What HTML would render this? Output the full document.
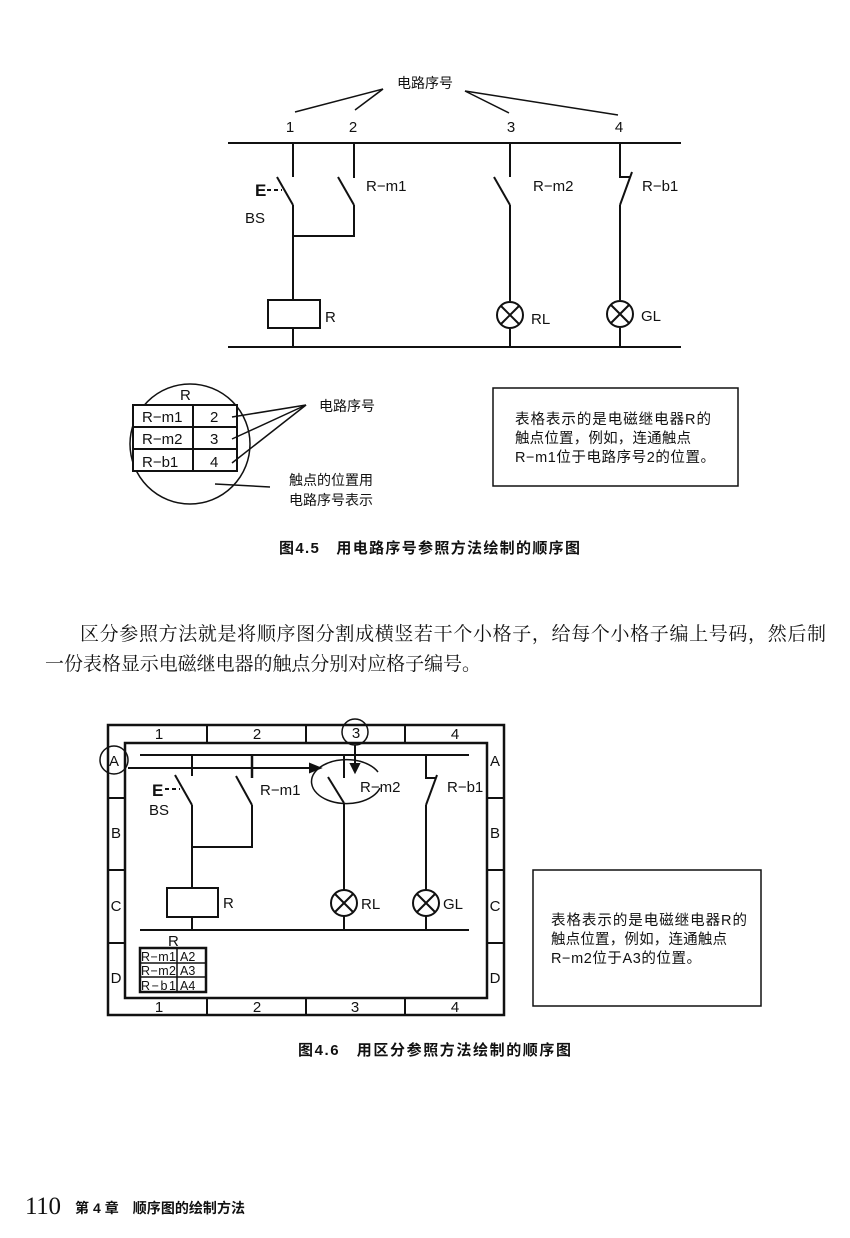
<!DOCTYPE html>
<html><head><meta charset="utf-8"><style>
html,body{margin:0;padding:0;background:#fff;}
svg{display:block;}
text{font-family:"Liberation Sans","Noto Sans CJK SC",sans-serif;fill:#111;}
.s{font-family:"Liberation Serif","Noto Serif CJK SC",serif;}
</style></head><body>
<svg width="850" height="1238" viewBox="0 0 850 1238" xmlns="http://www.w3.org/2000/svg">
<g stroke="#111" stroke-width="2" fill="none">
<!-- Fig 4.5 -->
<line x1="228" y1="143" x2="681" y2="143"/>
<line x1="228" y1="347" x2="681" y2="347"/>
<line x1="295" y1="112" x2="383" y2="89" stroke-width="1.5"/>
<line x1="355" y1="110" x2="383" y2="89" stroke-width="1.5"/>
<line x1="465" y1="91" x2="509" y2="113" stroke-width="1.5"/>
<line x1="465" y1="91" x2="618" y2="115" stroke-width="1.5"/>
<polyline points="293,143 293,177"/>
<line x1="277" y1="177" x2="293" y2="205"/>
<polyline points="293,205 293,300"/>
<line x1="293" y1="328" x2="293" y2="347"/>
<line x1="267" y1="190" x2="282" y2="190" stroke-dasharray="4,3"/>
<rect x="268" y="300" width="52" height="28"/>
<line x1="354" y1="143" x2="354" y2="178"/>
<line x1="338" y1="177" x2="354" y2="205"/>
<polyline points="354,205 354,236 293,236"/>
<line x1="510" y1="143" x2="510" y2="177"/>
<line x1="494" y1="177" x2="510" y2="205"/>
<line x1="510" y1="205" x2="510" y2="301"/>
<line x1="510" y1="329" x2="510" y2="347"/>
<circle cx="510" cy="315" r="13"/>
<line x1="501" y1="306" x2="519" y2="324"/><line x1="519" y1="306" x2="501" y2="324"/>
<polyline points="620,143 620,177 630,177"/>
<line x1="632" y1="172" x2="620" y2="205"/>
<line x1="620" y1="205" x2="620" y2="300"/>
<line x1="620" y1="328" x2="620" y2="347"/>
<circle cx="620" cy="314" r="13"/>
<line x1="611" y1="305" x2="629" y2="323"/><line x1="629" y1="305" x2="611" y2="323"/>
<circle cx="190" cy="444" r="60" stroke-width="1.5"/>
<rect x="133" y="405" width="104" height="66" fill="#fff"/>
<line x1="133" y1="427" x2="237" y2="427"/><line x1="133" y1="449" x2="237" y2="449"/>
<line x1="193" y1="405" x2="193" y2="471"/>
<line x1="232" y1="417" x2="306" y2="405" stroke-width="1.5"/>
<line x1="232" y1="439" x2="306" y2="405" stroke-width="1.5"/>
<line x1="232" y1="463" x2="306" y2="405" stroke-width="1.5"/>
<line x1="215" y1="484" x2="270" y2="487" stroke-width="1.5"/>
<rect x="493" y="388" width="245" height="98" stroke-width="1.5"/>

<!-- Fig 4.6 -->
<rect x="108" y="725" width="396" height="290" stroke-width="2.5"/>
<rect x="125" y="743" width="362" height="255" stroke-width="2.5"/>
<line x1="207" y1="725" x2="207" y2="743"/><line x1="306" y1="725" x2="306" y2="743"/><line x1="405" y1="725" x2="405" y2="743"/>
<line x1="207" y1="998" x2="207" y2="1015"/><line x1="306" y1="998" x2="306" y2="1015"/><line x1="405" y1="998" x2="405" y2="1015"/>
<line x1="108" y1="798" x2="125" y2="798"/><line x1="108" y1="870" x2="125" y2="870"/><line x1="108" y1="943" x2="125" y2="943"/>
<line x1="487" y1="798" x2="504" y2="798"/><line x1="487" y1="870" x2="504" y2="870"/><line x1="487" y1="943" x2="504" y2="943"/>
<line x1="140" y1="755" x2="469" y2="755"/>
<line x1="140" y1="930" x2="469" y2="930"/>
<line x1="128" y1="768" x2="312" y2="768"/>
<polygon points="320,768 310,764 310,772" fill="#111"/>
<circle cx="114" cy="760" r="14" stroke-width="1.5"/>
<circle cx="355" cy="732" r="13" stroke-width="1.5"/>
<line x1="355" y1="745" x2="355" y2="765"/>
<polygon points="355,772 351,764 359,764" fill="#111"/>
<line x1="192" y1="755" x2="192" y2="776"/>
<line x1="175" y1="775" x2="192" y2="805"/>
<line x1="192" y1="805" x2="192" y2="888"/>
<line x1="192" y1="917" x2="192" y2="930"/>
<rect x="167" y="888" width="51" height="29"/>
<line x1="165" y1="789" x2="180" y2="789" stroke-dasharray="4,3"/>
<line x1="252" y1="755" x2="252" y2="778" stroke-width="2.5"/>
<line x1="236" y1="776" x2="252" y2="805"/>
<polyline points="252,805 252,847 192,847"/>
<line x1="344" y1="755" x2="344" y2="778"/>
<line x1="328" y1="777" x2="344" y2="803"/>
<line x1="344" y1="803" x2="344" y2="890"/>
<line x1="344" y1="916" x2="344" y2="930"/>
<circle cx="344" cy="903" r="13"/>
<line x1="335" y1="894" x2="353" y2="912"/><line x1="353" y1="894" x2="335" y2="912"/>
<path d="M380,788 A35,22 0 1 1 378,772" stroke-width="1.5"/>
<polyline points="426,755 426,778 436,778"/>
<line x1="437" y1="775" x2="426" y2="805"/>
<line x1="426" y1="805" x2="426" y2="890"/>
<line x1="426" y1="916" x2="426" y2="930"/>
<circle cx="426" cy="903" r="13"/>
<line x1="417" y1="894" x2="435" y2="912"/><line x1="435" y1="894" x2="417" y2="912"/>
<rect x="140" y="948" width="66" height="44" stroke-width="2.5"/>
<line x1="140" y1="963" x2="206" y2="963" stroke-width="1.5"/><line x1="140" y1="977" x2="206" y2="977" stroke-width="1.5"/>
<line x1="177" y1="948" x2="177" y2="992" stroke-width="1.5"/>
<rect x="533" y="870" width="228" height="136" stroke-width="1.5"/>
</g>

<text x="425" y="88" font-size="14" text-anchor="middle">电路序号</text>
<g font-size="15" text-anchor="middle">
<text x="290" y="132">1</text><text x="353" y="132">2</text><text x="511" y="132">3</text><text x="619" y="132">4</text>
</g>
<g font-size="15">
<text x="366" y="191">R−m1</text><text x="533" y="191">R−m2</text><text x="642" y="191">R−b1</text>
<text x="245" y="223">BS</text><text x="325" y="322">R</text><text x="531" y="324">RL</text><text x="641" y="321">GL</text>
<text x="180" y="400">R</text>
<text x="142" y="422">R−m1</text><text x="142" y="444">R−m2</text><text x="142" y="467">R−b1</text>
<text x="210" y="422">2</text><text x="210" y="444">3</text><text x="210" y="467">4</text>
</g>
<text x="255" y="196" font-size="17" font-weight="bold">E</text>
<g font-size="14">
<text x="319" y="411">电路序号</text>
<text x="289" y="485">触点的位置用</text>
<text x="289" y="505">电路序号表示</text>
</g>
<g font-size="14.5">
<text x="515" y="424" textLength="196">表格表示的是电磁继电器R的</text>
<text x="515" y="443" textLength="176">触点位置，例如，连通触点</text>
<text x="515" y="462" textLength="200">R−m1位于电路序号2的位置。</text>
</g>
<text x="279" y="553" font-size="15" font-weight="bold" textLength="301">图4.5　用电路序号参照方法绘制的顺序图</text>

<text class="s" x="80" y="640" font-size="19" textLength="746">区分参照方法就是将顺序图分割成横竖若干个小格子，给每个小格子编上号码，然后制</text>
<text class="s" x="45" y="670" font-size="19" textLength="436">一份表格显示电磁继电器的触点分别对应格子编号。</text>

<g font-size="15" text-anchor="middle">
<text x="159" y="739">1</text><text x="257" y="739">2</text><text x="356" y="738">3</text><text x="455" y="739">4</text>
<text x="159" y="1012">1</text><text x="257" y="1012">2</text><text x="355" y="1012">3</text><text x="455" y="1012">4</text>
<text x="114" y="766">A</text><text x="495" y="766">A</text>
<text x="116" y="838">B</text><text x="495" y="838">B</text>
<text x="116" y="911">C</text><text x="495" y="911">C</text>
<text x="116" y="983">D</text><text x="495" y="983">D</text>
</g>
<g font-size="15">
<text x="260" y="795">R−m1</text><text x="360" y="792">R−m2</text><text x="447" y="792">R−b1</text>
<text x="149" y="815">BS</text><text x="223" y="908">R</text><text x="361" y="909">RL</text><text x="443" y="909">GL</text>
<text x="168" y="946">R</text>
</g>
<text x="152" y="796" font-size="17" font-weight="bold">E</text>
<g font-size="12.5">
<text x="141" y="961" textLength="35">R−m1</text><text x="180" y="961">A2</text>
<text x="141" y="975" textLength="35">R−m2</text><text x="180" y="975">A3</text>
<text x="141" y="990" textLength="35">R−b1</text><text x="180" y="990">A4</text>
</g>
<g font-size="14.5">
<text x="551" y="925" textLength="196">表格表示的是电磁继电器R的</text>
<text x="551" y="944" textLength="176">触点位置，例如，连通触点</text>
<text x="551" y="963" textLength="150">R−m2位于A3的位置。</text>
</g>
<text x="298" y="1055" font-size="15" font-weight="bold" textLength="273">图4.6　用区分参照方法绘制的顺序图</text>

<text class="s" x="25" y="1214" font-size="25" textLength="36">110</text>
<text x="75" y="1213" font-size="14" font-weight="bold" textLength="170">第 4 章　顺序图的绘制方法</text>
</svg>
</body></html>
